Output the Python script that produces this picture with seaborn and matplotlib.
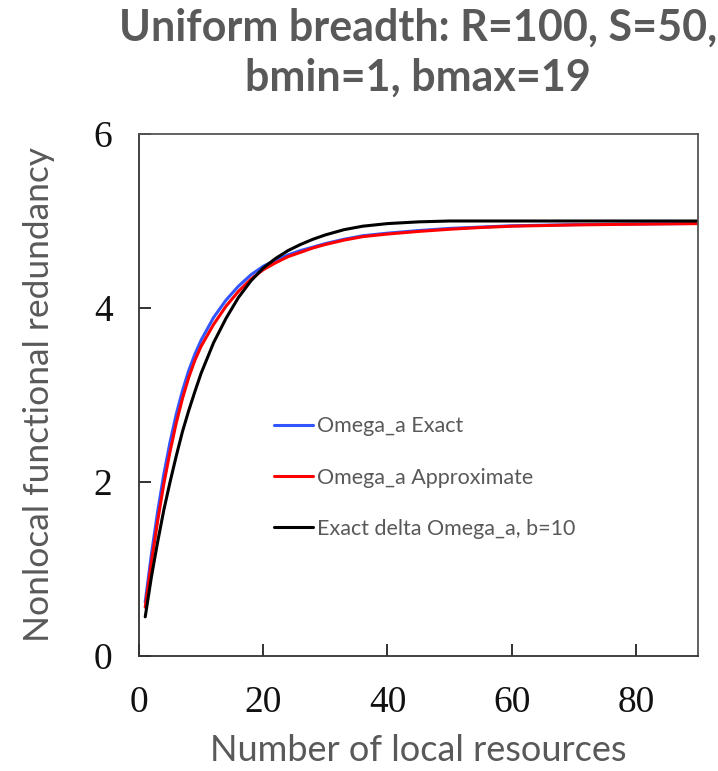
import matplotlib
matplotlib.use("Agg")
import matplotlib.pyplot as plt
import pandas as pd
import seaborn as sns

# Number of local resources (x) and the three redundancy curves
resources = [1, 2, 3, 4, 5, 6, 7, 8, 9, 10, 12, 14, 16, 18, 20, 22, 24, 26, 28,
             30, 33, 36, 40, 45, 50, 55, 60, 70, 80, 90]
omega_exact = [0.62, 1.17, 1.66, 2.09, 2.46, 2.78, 3.05, 3.28, 3.47, 3.63, 3.89,
               4.09, 4.25, 4.38, 4.48, 4.55, 4.61, 4.66, 4.70, 4.74, 4.79, 4.83,
               4.86, 4.89, 4.915, 4.93, 4.945, 4.958, 4.966, 4.972]
omega_approx = [0.56, 1.08, 1.55, 1.98, 2.35, 2.68, 2.96, 3.20, 3.40, 3.56, 3.81,
                4.02, 4.19, 4.33, 4.44, 4.52, 4.59, 4.64, 4.69, 4.73, 4.78, 4.82,
                4.85, 4.88, 4.905, 4.925, 4.94, 4.955, 4.963, 4.97]
delta_exact_b10 = [0.45, 0.91, 1.31, 1.68, 2.00, 2.30, 2.58, 2.82, 3.04, 3.25,
                   3.60, 3.88, 4.12, 4.31, 4.46, 4.57, 4.66, 4.73, 4.79, 4.84,
                   4.90, 4.94, 4.97, 4.99, 5.0, 5.0, 5.0, 5.0, 5.0, 5.0]

series_names = ["Omega_a Exact", "Omega_a Approximate", "Exact delta Omega_a, b=10"]
series_colors = ["#3355ff", "#ff0000", "#000000"]

frames = []
for name, vals in zip(series_names, [omega_exact, omega_approx, delta_exact_b10]):
    frames.append(pd.DataFrame({"resources": resources, "redundancy": vals,
                                "series": name}))
df = pd.concat(frames, ignore_index=True)

sns.set_theme(style="white")
plt.rcParams["font.family"] = ["Lato", "DejaVu Sans"]

grey = "#595959"
fig = plt.figure(figsize=(7.18, 7.71), dpi=100)
ax = fig.add_axes([0.1936, 0.1492, 0.7786, 0.677])

sns.lineplot(data=df, x="resources", y="redundancy", hue="series",
             hue_order=series_names, palette=series_colors, linewidth=2.2,
             ax=ax, legend=True)

ax.set_xlim(0, 90)
ax.set_ylim(0, 6)
ax.set_xticks([0, 20, 40, 60, 80])
ax.set_yticks([0, 2, 4, 6])

for side in ["left", "bottom", "top", "right"]:
    ax.spines[side].set_visible(True)
    ax.spines[side].set_linewidth(1.3)
    ax.spines[side].set_color("#333333")
ax.spines["top"].set_color("#555555")
ax.spines["right"].set_color("#555555")

ax.tick_params(axis="both", direction="in", length=8.5, width=1.3,
               colors="#222222", labelsize=27)
ax.tick_params(axis="x", top=False, bottom=True, pad=21)
ax.tick_params(axis="y", left=True, right=False, pad=19)
for lab in ax.get_xticklabels() + ax.get_yticklabels():
    lab.set_family(["Liberation Serif", "DejaVu Serif"])
    lab.set_color("#111111")

ax.set_xlabel("Number of local resources", fontsize=26, color=grey, labelpad=10)
ax.set_ylabel("Nonlocal functional redundancy", fontsize=25.5, color=grey,
              labelpad=28)

leg = ax.legend(loc="upper left", bbox_to_anchor=(0.2415, 0.459), frameon=False,
                fontsize=15.5, handlelength=1.8, handletextpad=0.2,
                labelspacing=1.45, borderpad=0, borderaxespad=0)
for txt in leg.get_texts():
    txt.set_color(grey)
for line in leg.get_lines():
    line.set_linewidth(2.2)

fig.text(0.582, 0.99, "Uniform breadth: R=100, S=50,\nbmin=1, bmax=19",
         ha="center", va="top", fontsize=31, fontweight="bold", color=grey,
         linespacing=1.3)

fig.savefig("out.png", dpi=100)
